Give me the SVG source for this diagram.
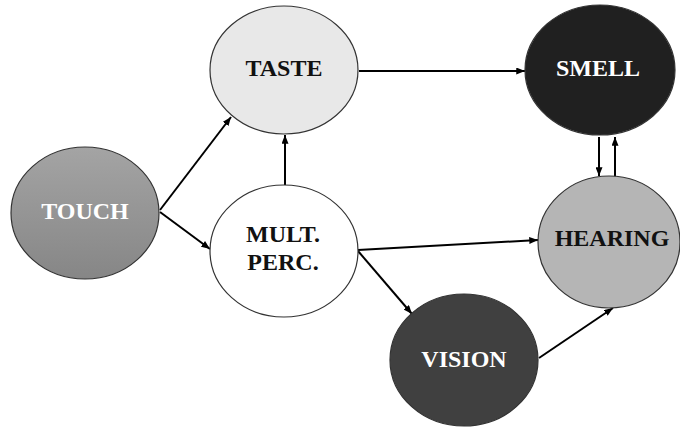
<svg xmlns="http://www.w3.org/2000/svg" width="680" height="429" viewBox="0 0 680 429">
<defs>
<linearGradient id="gTouch" x1="0" y1="0" x2="0" y2="1">
<stop offset="0" stop-color="#a4a4a4"/>
<stop offset="1" stop-color="#868686"/>
</linearGradient>
<marker id="ah" viewBox="0 0 10 8" refX="10" refY="4" markerWidth="9" markerHeight="7" markerUnits="userSpaceOnUse" orient="auto">
<path d="M0,0 L10,4 L0,8 Z" fill="#000"/>
</marker>
</defs>
<style>
.n{stroke:#333;stroke-width:1.2}
.t{font-family:"Liberation Serif","DejaVu Serif",serif;font-weight:bold;font-size:24px;text-anchor:middle}
.e{stroke:#000;stroke-width:2;fill:none;marker-end:url(#ah)}
</style>
<rect width="680" height="429" fill="#fff"/>
<g id="connectors">
<line class="e" x1="160" y1="210" x2="231" y2="117"/>
<line class="e" x1="160" y1="212" x2="210" y2="249"/>
<line class="e" x1="285" y1="185" x2="285" y2="135"/>
<line class="e" x1="359" y1="71" x2="525" y2="71"/>
<line class="e" x1="358" y1="250" x2="538" y2="240"/>
<line class="e" x1="358" y1="251" x2="412" y2="314"/>
<line class="e" x1="539" y1="358" x2="613" y2="308"/>
<line class="e" x1="599" y1="137" x2="599" y2="176"/>
<line class="e" x1="615" y1="177" x2="615" y2="137"/>
</g>
<g id="touch">
<ellipse class="n" cx="85" cy="213" rx="74" ry="66" fill="url(#gTouch)"/>
<text class="t" x="85" y="219" fill="#fff">TOUCH</text>
</g>
<g id="taste">
<ellipse class="n" cx="284" cy="70" rx="74" ry="64" fill="#e8e8e8"/>
<text class="t" x="284" y="76" fill="#111">TASTE</text>
</g>
<g id="smell">
<ellipse class="n" cx="600" cy="70" rx="75" ry="65" fill="#202020"/>
<text class="t" x="598" y="76" fill="#fff">SMELL</text>
</g>
<g id="mult">
<ellipse class="n" cx="284" cy="251" rx="74" ry="66" fill="#fff"/>
<text class="t" x="283" y="242" fill="#111">MULT.</text>
<text class="t" x="283" y="270" fill="#111">PERC.</text>
</g>
<g id="hearing">
<ellipse class="n" cx="609" cy="242" rx="71" ry="66" fill="#b5b5b5"/>
<text class="t" x="612" y="246" fill="#111">HEARING</text>
</g>
<g id="vision">
<ellipse class="n" cx="464" cy="360" rx="74" ry="66" fill="#404040"/>
<text class="t" x="464" y="367" fill="#fff">VISION</text>
</g>
</svg>
